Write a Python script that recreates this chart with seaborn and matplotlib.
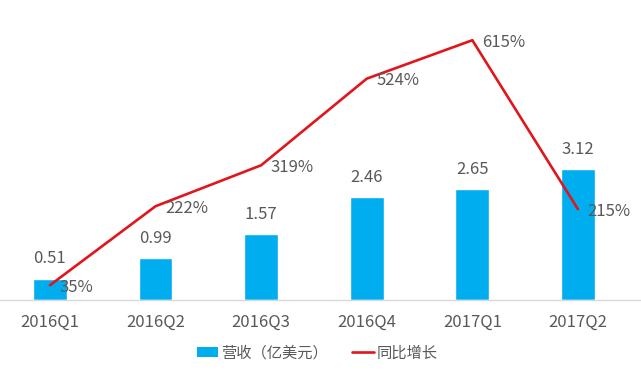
import matplotlib
matplotlib.use("Agg")
import matplotlib.pyplot as plt
import seaborn as sns
import pandas as pd
from matplotlib.patches import Patch
from matplotlib.lines import Line2D

quarters = ["2016Q1", "2016Q2", "2016Q3", "2016Q4", "2017Q1", "2017Q2"]
revenue = [0.51, 0.99, 1.57, 2.46, 2.65, 3.12]
growth = [35, 222, 319, 524, 615, 215]

sns.set_style("white")
plt.rcParams['font.family'] = ['Noto Sans CJK SC', 'DejaVu Sans']

df = pd.DataFrame({"quarter": quarters, "revenue": revenue, "growth": growth})

bar_color = "#00AEEF"
line_color = "#E0161C"
text_color = "#595959"

fig = plt.figure(figsize=(6.41, 3.71), dpi=100)
ax = fig.add_axes([0, 71 / 371, 1, 300 / 371])
sns.barplot(data=df, x="quarter", y="revenue", color=bar_color, width=0.32,
            saturation=1, ax=ax)
ax.set_ylim(0, 300 / 42)
ax.set_xlim(-0.473, 5.597)

ax2 = ax.twinx()
sns.lineplot(data=df, x="quarter", y="growth", color=line_color, linewidth=1.9,
             ax=ax2, sort=False)
ax2.set_ylim(0, 300 / 0.4224)
ax2.set_xlim(-0.473, 5.597)

for i, v in enumerate(revenue):
    ax.annotate(f"{v:.2f}", (i, v), xytext=(0, 8), textcoords="offset points",
                ha="center", va="bottom", fontsize=12, color=text_color)
for i, g in enumerate(growth):
    ax2.annotate(f"{g}%", (i, g), xytext=(7, -1.5), textcoords="offset points",
                 ha="left", va="center", fontsize=12, color=text_color)

for a in (ax, ax2):
    a.set_xlabel("")
    a.set_ylabel("")
    a.set_yticks([])
    for s in a.spines.values():
        s.set_visible(False)
ax.spines["bottom"].set_visible(True)
ax.spines["bottom"].set_color("#D9D9D9")
ax.spines["bottom"].set_linewidth(1)
ax.tick_params(axis="x", length=0, pad=10, labelsize=12, labelcolor=text_color)
ax2.tick_params(axis="x", length=0)

handles = [Patch(facecolor=bar_color, edgecolor="none"),
           Line2D([0], [0], color=line_color, linewidth=1.9)]
fig.legend(handles, ["营收（亿美元）", "同比增长"], loc="center",
           bbox_to_anchor=(0.495, 18 / 371), ncol=2, frameon=False,
           fontsize=11, labelcolor=text_color, handlelength=1.4,
           handleheight=0.55, handletextpad=0.2, columnspacing=1.6)

fig.savefig("out.png", dpi=100)
